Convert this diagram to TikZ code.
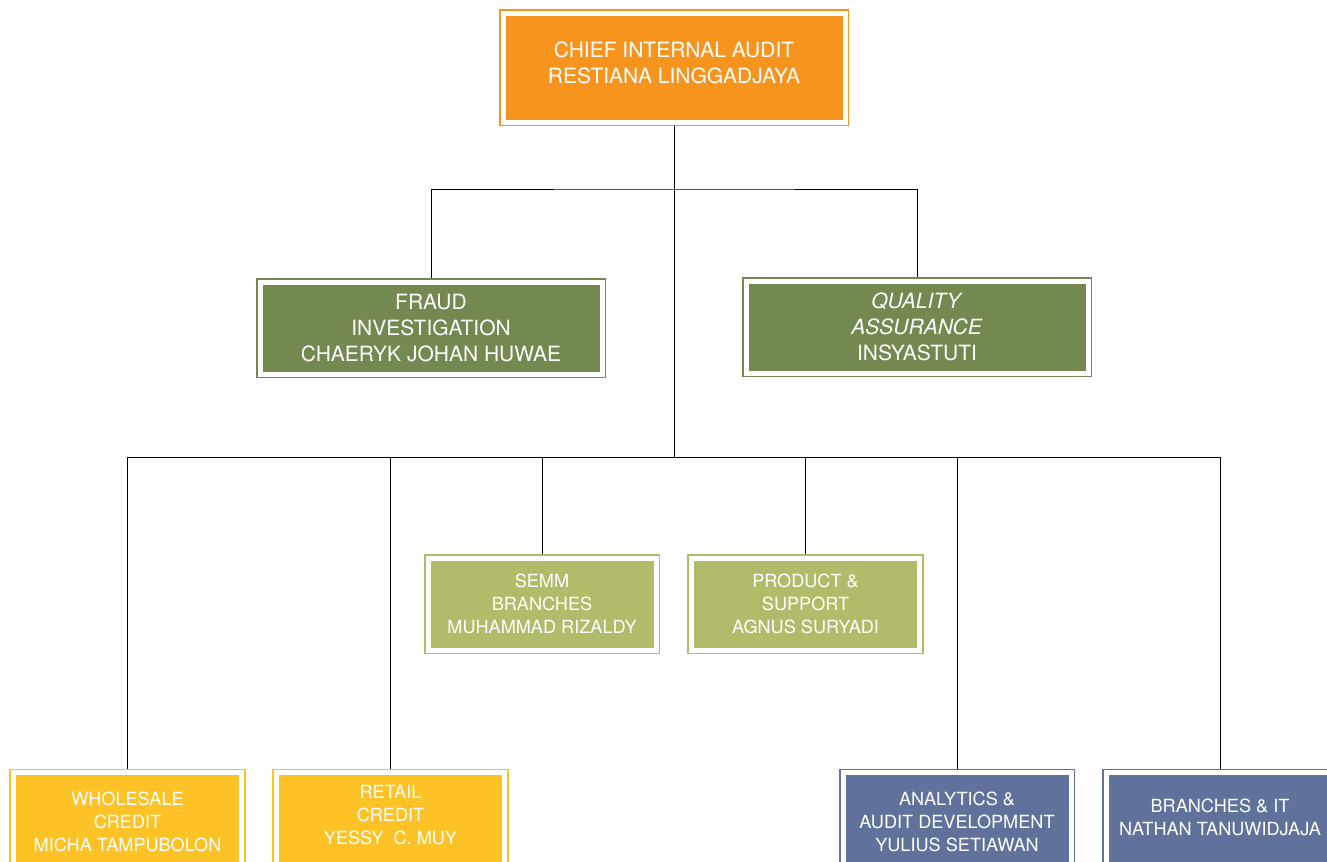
\documentclass[tikz,border=0pt]{standalone}
\usepackage{fontspec}
\setmainfont{TeX Gyre Heros}
\usetikzlibrary{backgrounds}
\definecolor{corange}{RGB}{247,148,30}
\definecolor{cdgreen}{RGB}{115,137,80}
\definecolor{clgreen}{RGB}{178,187,106}
\definecolor{cyellow}{RGB}{253,195,38}
\definecolor{cblue}{RGB}{96,114,155}
\newcommand\liftedtext[2]{\raisebox{#1}[\height][\depth]{\begin{tabular}{@{}c@{}}#2\end{tabular}}}
\tikzset{
  unit box/.style={rectangle, fill=#1, draw=#1, double=white, double distance=3.75pt,
    line width=1.3pt, inner sep=0pt, align=center, text=white},
  bigbox/.style={unit box=#1, minimum width=256.5pt, font=\fontsize{15.75}{19.5}\selectfont},
  smallbox/.style={unit box=#1, minimum width=171pt, font=\fontsize{13.6}{17}\selectfont},
  link/.style={draw=black, line width=0.6pt}
}
\begin{document}
\begin{tikzpicture}[x=0.75pt,y=-0.75pt]
\useasboundingbox (0,0) rectangle (1327,861);
\clip (0,0) rectangle (1327,861);

\node[bigbox=corange, minimum height=81.75pt] (top) at (674,67.5) {\liftedtext{1.75pt}{CHIEF INTERNAL AUDIT\\RESTIANA LINGGADJAYA}};

\node[bigbox=cdgreen, minimum height=69pt] (fraud) at (431,328) {FRAUD\\INVESTIGATION\\CHAERYK JOHAN HUWAE};
\node[bigbox=cdgreen, minimum height=69pt] (qa) at (917,327) {\textit{QUALITY}\\\textit{ASSURANCE}\\INSYASTUTI};

\node[smallbox=clgreen, minimum height=69pt] (semm) at (542,604) {SEMM\\BRANCHES\\MUHAMMAD RIZALDY};
\node[smallbox=clgreen, minimum height=69pt] (product) at (805.5,604) {PRODUCT \&\\SUPPORT\\AGNUS SURYADI};

\node[smallbox=cyellow, minimum height=73.5pt, anchor=north] (whole) at (127.5,772) {WHOLESALE\\CREDIT\\MICHA TAMPUBOLON};
\node[smallbox=cyellow, minimum height=73.5pt, anchor=north] (retail) at (390.5,772) {\liftedtext{3.75pt}{RETAIL\\CREDIT\\YESSY\ \ C. MUY}};
\node[smallbox=cblue, minimum height=73.5pt, anchor=north] (analytics) at (957,772) {ANALYTICS \&\\AUDIT DEVELOPMENT\\YULIUS SETIAWAN};
\node[smallbox=cblue, minimum height=73.5pt, anchor=north] (bit) at (1220,772) {\liftedtext{1.9pt}{BRANCHES \& IT\\NATHAN TANUWIDJAJA}};

\coordinate (j1) at (674,189);
\coordinate (j2) at (674,457);

\begin{scope}[on background layer]
\draw[link] (top.south) -- (j2);
\draw[link] (fraud.north) |- (j1) -| (qa.north);
\draw[link] (whole.north) |- (j2) -| (bit.north);
\draw[link] (retail.north) -- (retail.north |- j2);
\draw[link] (semm.north) -- (semm.north |- j2);
\draw[link] (product.north) -- (product.north |- j2);
\draw[link] (analytics.north) -- (analytics.north |- j2);
\end{scope}
\end{tikzpicture}
\end{document}
